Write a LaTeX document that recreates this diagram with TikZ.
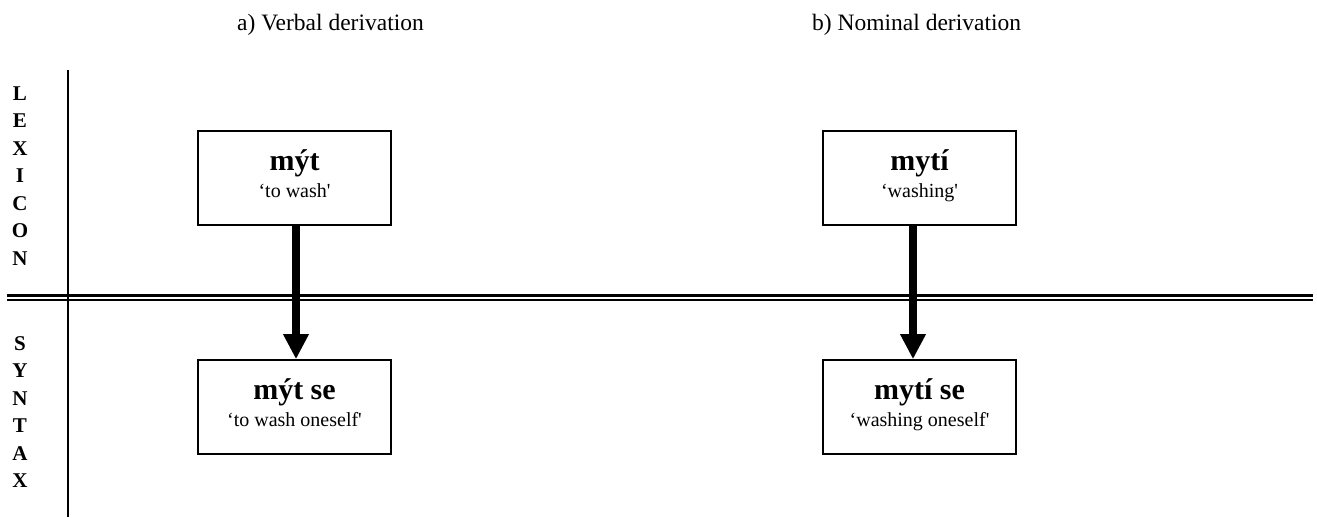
\documentclass[tikz,border=0pt]{standalone}
\usepackage{fontspec}
\setmainfont{Liberation Serif}
\usetikzlibrary{arrows.meta}
\begin{document}
\begin{tikzpicture}[x=1pt,y=-1pt,
  formbox/.style={draw,line width=1.6pt,rectangle,inner sep=0pt,
    minimum width=193pt,minimum height=94pt},
  formword/.style={anchor=base,inner sep=0pt,font=\fontsize{30}{30}\selectfont\bfseries},
  gloss/.style={anchor=base,inner sep=0pt,font=\fontsize{20}{20}\selectfont},
  heading/.style={anchor=base west,inner sep=0pt,font=\fontsize{23.5}{23.5}\selectfont},
  levellabel/.style={align=center,inner sep=0pt,font=\fontsize{21}{27.5}\selectfont\bfseries},
  derive/.style={line width=7.5pt,-{Triangle[width=24pt,length=25pt]}}]
\useasboundingbox (0,0) rectangle (1317,518);

% headings
\node[heading] (ha) at (237,31) {a) Verbal derivation};
\node[heading] (hb) at (812,31) {b) Nominal derivation};

% level divisions
\coordinate (vtop) at (68,70);
\coordinate (vbot) at (68,517);
\draw[line width=2pt] (vtop) -- (vbot);
\coordinate (dl) at (7,295.3);
\coordinate (dr) at (1313,295.3);
\draw[line width=2.6pt] (dl) -- (dr);
\draw[line width=2pt] ([yshift=-5pt]dl) -- ([yshift=-5pt]dr);

\node[levellabel] (lex) at (20,176) {L\\E\\X\\I\\C\\O\\N};
\node[levellabel] (syn) at (20,412) {S\\Y\\N\\T\\A\\X};

% boxes
\node[formbox] (b1) at (294.5,178) {};
\node[formbox] (b2) at (294.5,407) {};
\node[formbox] (b3) at (919.5,178) {};
\node[formbox] (b4) at (919.5,407) {};

\node[formword] (w1) at ([yshift=-40pt]b1.north) {mýt};
\node[gloss]    (g1) at ([yshift=-67pt]b1.north) {‘to wash\textquotesingle};
\node[formword] (w2) at ([yshift=-40pt]b2.north) {mýt se};
\node[gloss]    (g2) at ([yshift=-67pt]b2.north) {‘to wash oneself\textquotesingle};
\node[formword] (w3) at ([yshift=-40pt]b3.north) {mytí};
\node[gloss]    (g3) at ([yshift=-67pt]b3.north) {‘washing\textquotesingle};
\node[formword] (w4) at ([yshift=-40pt]b4.north) {mytí se};
\node[gloss]    (g4) at ([yshift=-67pt]b4.north) {‘washing oneself\textquotesingle};

% derivation arrows
\draw[derive] ([xshift=1.5pt]b1.south) -- ([xshift=1.5pt]b2.north);
\draw[derive] ([xshift=-6.5pt]b3.south) -- ([xshift=-6.5pt]b4.north);
\end{tikzpicture}
\end{document}
